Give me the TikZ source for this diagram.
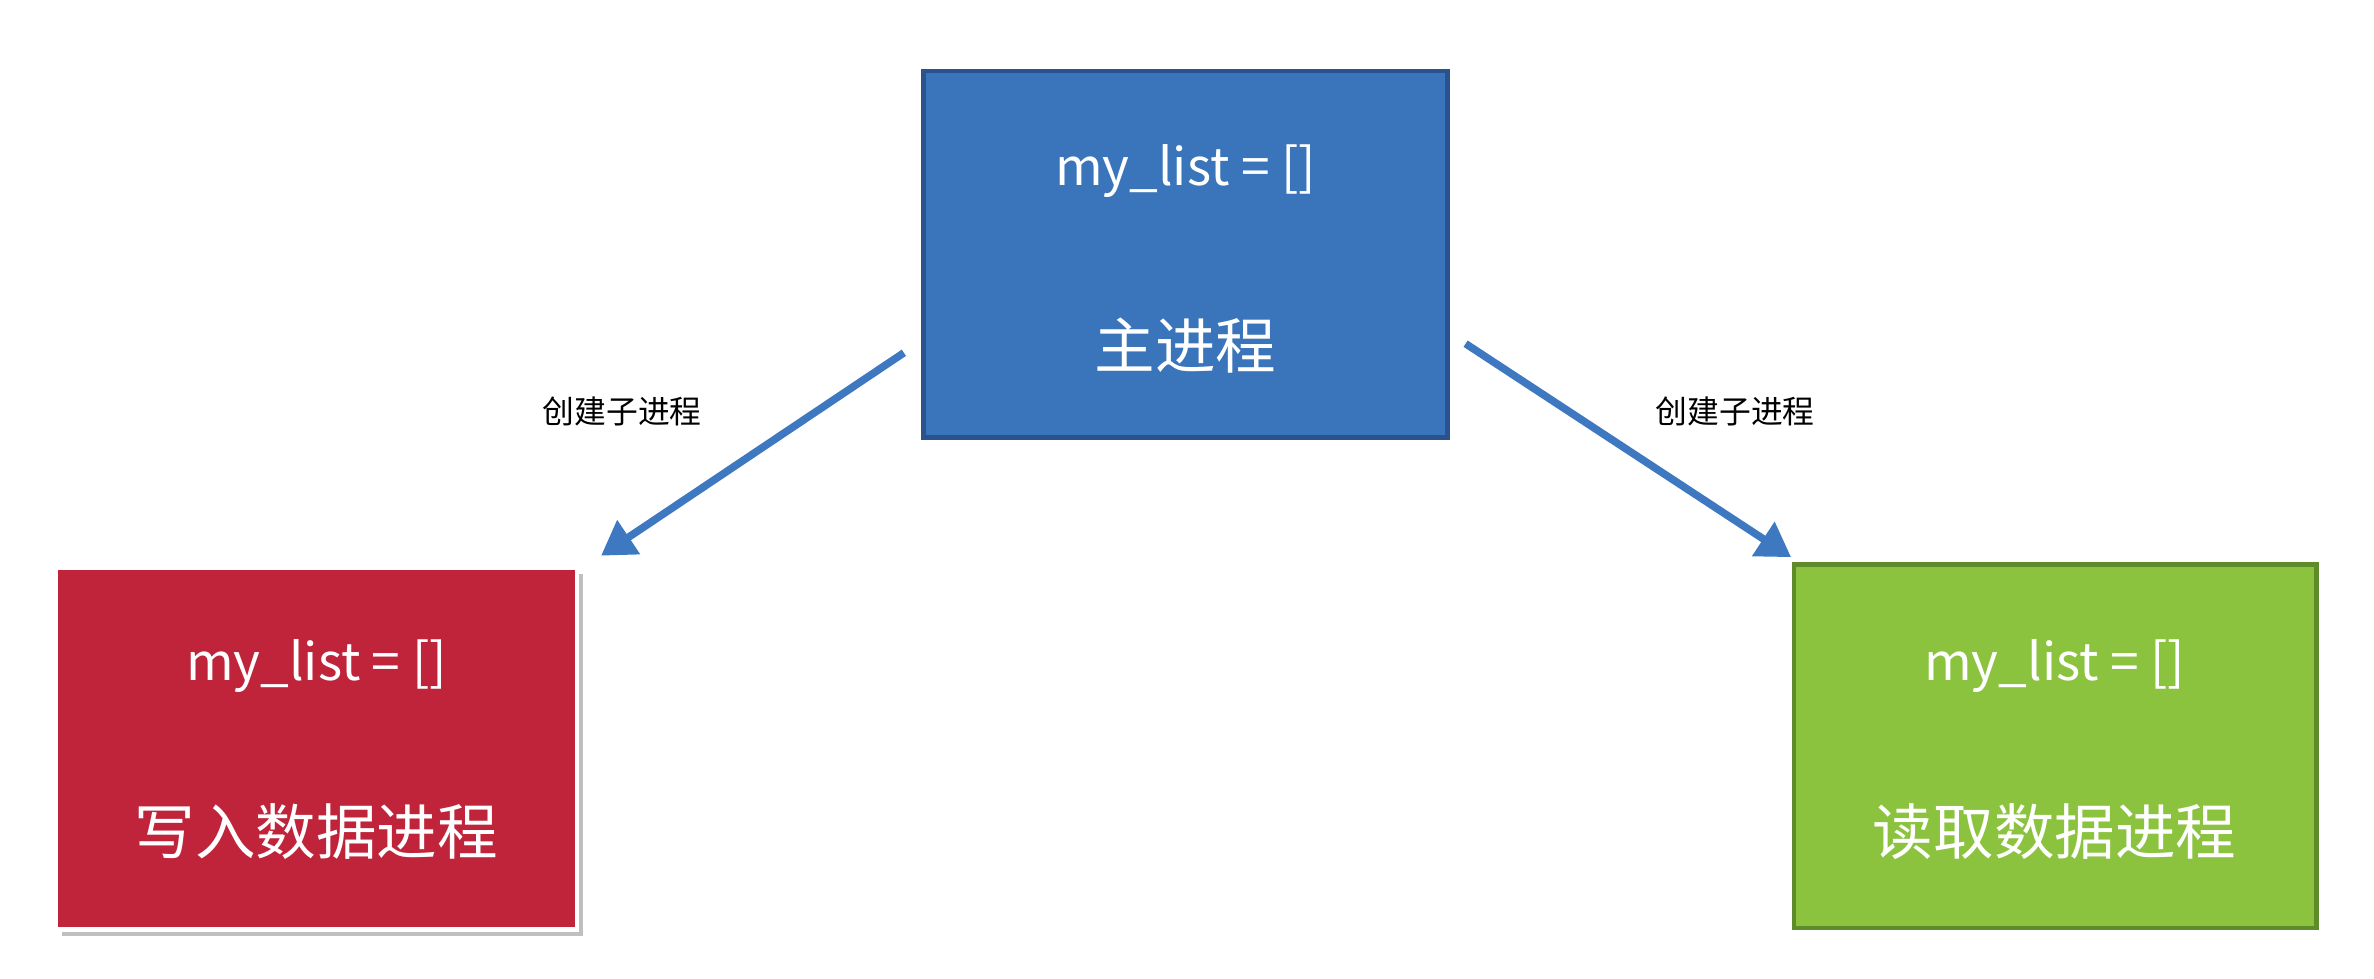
\documentclass[tikz,border=0pt]{standalone}
\usepackage{fontspec}
\setmainfont{Noto Sans CJK SC}
\usetikzlibrary{arrows.meta,shadows}
\definecolor{bblue}{HTML}{3A74BA}
\definecolor{bblueb}{HTML}{2A528C}
\definecolor{bred}{HTML}{C0243A}
\definecolor{bgreen}{HTML}{8BC33F}
\definecolor{bgreenb}{HTML}{5F8B2B}
\definecolor{arr}{HTML}{3E78C0}
\begin{document}
\begin{tikzpicture}[x=1pt,y=-1pt,
  box/.style={line width=3pt},
  conn/.style={arr,line width=5pt,-{Triangle[length=22pt,width=26pt]}},
  code/.style={text=white,font=\fontsize{34}{40}\selectfont},
  cjk/.style={text=white,font=\fontsize{40}{48}\selectfont},
  lab/.style={font=\fontsize{21}{25}\selectfont}]
\useasboundingbox (0,0) rectangle (1568,646);
\draw[box,fill=bblue,draw=bblueb] (610,47) rectangle (956,289);
\fill[black!25] (41,379) rectangle (385,618);
\draw[box,fill=bred,draw=white] (37,375) rectangle (381,614);
\draw[box,fill=bgreen,draw=bgreenb] (1185,373) rectangle (1530,613);
\node[code] (m1) at (783,113) {my\_list = []};
\node[cjk] (m2) at (783,228) {主进程};
\node[code] (w1) at (209,440) {my\_list = []};
\node[cjk] (w2) at (209,549) {写入数据进程};
\node[code] (r1) at (1357,440) {my\_list = []};
\node[cjk] (r2) at (1357,549) {读取数据进程};
\coordinate (a1) at (597,233); \coordinate (b1) at (397,367);
\coordinate (a2) at (968,227); \coordinate (b2) at (1183,368);
\draw[conn] (a1) -- (b1);
\draw[conn] (a2) -- (b2);
\node[lab] (l1) at (411,272) {创建子进程};
\node[lab] (l2) at (1146,272) {创建子进程};
\end{tikzpicture}
\end{document}
